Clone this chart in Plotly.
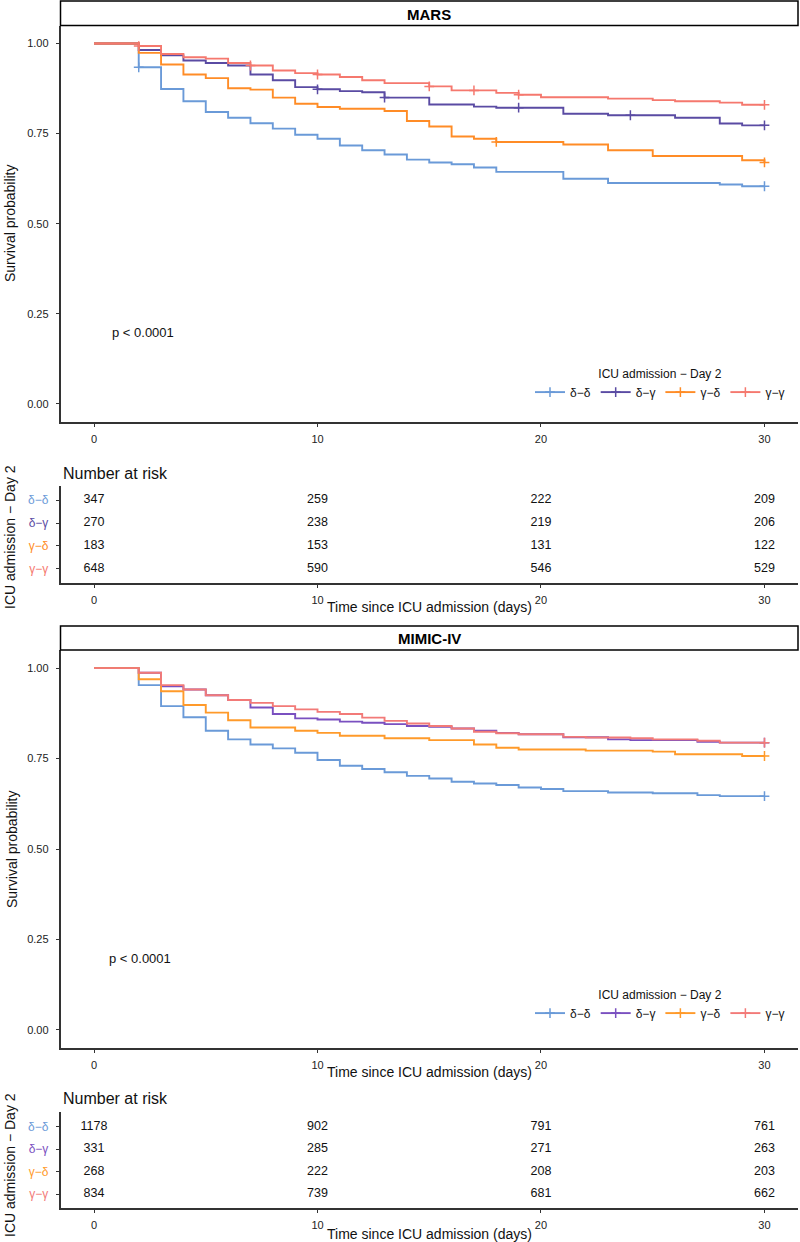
import plotly.graph_objects as go

W, H = 800, 1242
FONT = "Liberation Sans, Arial, Helvetica, sans-serif"

# ---------------- data ----------------
groups = ["δ−δ", "δ−γ", "γ−δ", "γ−γ"]
days = list(range(0, 31))

# MARS survival estimates, value after each day's step (days 0..30)
mars_dd = [1.0, 1.0, 0.934, 0.874, 0.840, 0.810, 0.794, 0.779, 0.764, 0.747, 0.736,
           0.717, 0.704, 0.692, 0.678, 0.670, 0.665, 0.656, 0.644, 0.644, 0.644,
           0.625, 0.625, 0.613, 0.613, 0.613, 0.613, 0.613, 0.609, 0.604, 0.604]
mars_dg = [1.0, 1.0, 0.982, 0.967, 0.953, 0.946, 0.939, 0.914, 0.898, 0.879, 0.873,
           0.868, 0.865, 0.850, 0.850, 0.831, 0.831, 0.825, 0.822, 0.822, 0.822,
           0.805, 0.805, 0.801, 0.801, 0.801, 0.794, 0.794, 0.778, 0.773, 0.773]
mars_gd = [1.0, 1.0, 0.974, 0.942, 0.914, 0.904, 0.876, 0.872, 0.850, 0.833, 0.824,
           0.819, 0.819, 0.813, 0.785, 0.770, 0.742, 0.736, 0.727, 0.727, 0.727,
           0.720, 0.720, 0.704, 0.704, 0.688, 0.688, 0.688, 0.688, 0.676, 0.670]
mars_gg = [1.0, 1.0, 0.993, 0.971, 0.962, 0.958, 0.946, 0.939, 0.925, 0.918, 0.914,
           0.907, 0.898, 0.890, 0.890, 0.881, 0.870, 0.870, 0.863, 0.858, 0.851,
           0.851, 0.851, 0.847, 0.847, 0.843, 0.840, 0.840, 0.836, 0.830, 0.830]

# MIMIC-IV survival estimates (days 0..30)
mimic_dd = [1.0, 1.0, 0.953, 0.895, 0.864, 0.827, 0.803, 0.789, 0.778, 0.766, 0.746,
            0.730, 0.721, 0.712, 0.702, 0.695, 0.686, 0.681, 0.677, 0.670, 0.666,
            0.660, 0.660, 0.656, 0.656, 0.654, 0.654, 0.649, 0.646, 0.646, 0.646]
mimic_dg = [1.0, 1.0, 0.987, 0.950, 0.941, 0.925, 0.912, 0.891, 0.873, 0.861, 0.858,
            0.852, 0.849, 0.845, 0.840, 0.838, 0.833, 0.827, 0.821, 0.817, 0.817,
            0.809, 0.809, 0.803, 0.801, 0.801, 0.801, 0.796, 0.794, 0.794, 0.794]
mimic_gd = [1.0, 1.0, 0.969, 0.936, 0.898, 0.877, 0.856, 0.836, 0.836, 0.827, 0.821,
            0.813, 0.813, 0.806, 0.806, 0.801, 0.801, 0.789, 0.780, 0.775, 0.775,
            0.775, 0.772, 0.772, 0.772, 0.769, 0.762, 0.762, 0.762, 0.757, 0.757]
mimic_gg = [1.0, 1.0, 0.987, 0.953, 0.941, 0.925, 0.912, 0.904, 0.895, 0.886, 0.879,
            0.873, 0.863, 0.854, 0.847, 0.840, 0.833, 0.824, 0.820, 0.817, 0.817,
            0.810, 0.808, 0.808, 0.806, 0.803, 0.803, 0.799, 0.794, 0.794, 0.794]

# censoring marks (days)
mars_cens_dd = [2, 30]
mars_cens_dg = [10, 13, 19, 24, 30]
mars_cens_gd = [18, 30]
mars_cens_gg = [2, 7, 10, 15, 17, 19, 30]
mimic_cens_dd = [30]
mimic_cens_dg = [30]
mimic_cens_gd = [30]
mimic_cens_gg = [30]

# number at risk
risk_times = [0, 10, 20, 30]
mars_risk_dd = [347, 259, 222, 209]
mars_risk_dg = [270, 238, 219, 206]
mars_risk_gd = [183, 153, 131, 122]
mars_risk_gg = [648, 590, 546, 529]
mimic_risk_dd = [1178, 902, 791, 761]
mimic_risk_dg = [331, 285, 271, 263]
mimic_risk_gd = [268, 222, 208, 203]
mimic_risk_gg = [834, 739, 681, 662]

x_ticks = [0, 10, 20, 30]
y_ticks = [0, 0.25, 0.5, 0.75, 1.0]
y_ticktext = ["0.00", "0.25", "0.50", "0.75", "1.00"]

mars_colors = ["#6A9AD8", "#5A4BA3", "#FF8C26", "#F5786E"]
mimic_colors = ["#6A9AD8", "#7A50C0", "#FF9A2A", "#F27A78"]

panels = [
    dict(name="MARS", surv=[mars_dd, mars_dg, mars_gd, mars_gg],
         cens=[mars_cens_dd, mars_cens_dg, mars_cens_gd, mars_cens_gg],
         risk=[mars_risk_dd, mars_risk_dg, mars_risk_gd, mars_risk_gg],
         colors=mars_colors, km="1", rt="2", legend="legend"),
    dict(name="MIMIC-IV", surv=[mimic_dd, mimic_dg, mimic_gd, mimic_gg],
         cens=[mimic_cens_dd, mimic_cens_dg, mimic_cens_gd, mimic_cens_gg],
         risk=[mimic_risk_dd, mimic_risk_dg, mimic_risk_gd, mimic_risk_gg],
         colors=mimic_colors, km="3", rt="4", legend="legend2"),
]


def pxx(p):
    return p / W


def pyy(p):
    return 1 - p / H


def ax(n, kind):
    return kind if n == "1" else kind + n


fig = go.Figure()

for P in panels:
    xk, yk = ax(P["km"], "x"), ax(P["km"], "y")
    xr, yr = ax(P["rt"], "x"), ax(P["rt"], "y")
    for g, s, c, col in zip(groups, P["surv"], P["cens"], P["colors"]):
        fig.add_trace(go.Scatter(
            x=days, y=s, mode="lines", name=g, showlegend=False,
            line=dict(shape="hv", color=col, width=1.9),
            xaxis=xk, yaxis=yk, hoverinfo="skip"))
        fig.add_trace(go.Scatter(
            x=c, y=[s[days.index(t)] for t in c], mode="markers", showlegend=False,
            marker=dict(symbol="cross-thin", size=7, line=dict(width=1.5, color=col)),
            xaxis=xk, yaxis=yk, hoverinfo="skip"))
        fig.add_trace(go.Scatter(
            x=[None], y=[None], mode="lines+markers", name=g, legend=P["legend"],
            line=dict(color=col, width=1.9),
            marker=dict(symbol="cross-thin", size=7, line=dict(width=1.5, color=col)),
            xaxis=xk, yaxis=yk))
    for g, r in zip(groups, P["risk"]):
        fig.add_trace(go.Scatter(
            x=risk_times, y=[g] * len(risk_times), mode="text",
            text=[str(v) for v in r], textposition="middle center",
            textfont=dict(size=12.5, color="#111", family=FONT),
            showlegend=False, xaxis=xr, yaxis=yr, hoverinfo="skip"))

common_x = dict(range=[-1.5, 31.5], tickvals=x_ticks, ticks="outside", ticklen=3,
                tickwidth=1, tickcolor="#333", showline=True, linecolor="#333",
                linewidth=1.5, showgrid=False, zeroline=False, ticklabelstandoff=3,
                tickfont=dict(size=11, color="#222", family=FONT))
common_yk = dict(range=[-0.05, 1.05], tickvals=y_ticks, ticktext=y_ticktext,
                 ticks="outside", ticklen=3, tickwidth=1, tickcolor="#333",
                 showline=True, linecolor="#333", linewidth=1.5, showgrid=False,
                 zeroline=False, ticklabelstandoff=5,
                 tickfont=dict(size=11, color="#222", family=FONT))


def risk_y(colors, rng, dom):
    return dict(type="category", categoryorder="array", categoryarray=groups[::-1],
                range=rng, domain=dom, tickvals=groups,
                ticktext=[f'<span style="color:{c}">{g}</span>' for g, c in zip(groups, colors)],
                ticks="outside", ticklen=3, tickwidth=1, tickcolor="#333",
                showline=True, linecolor="#333", linewidth=1.5, showgrid=False,
                zeroline=False, ticklabelstandoff=5, tickfont=dict(size=12, family=FONT))


xdom = [pxx(60.5), pxx(798)]
leg_common = dict(orientation="h", xanchor="right", yanchor="top",
                  font=dict(size=12, family=FONT, color="#111"),
                  bgcolor="rgba(0,0,0,0)", itemwidth=30)
fig.update_layout(
    width=W, height=H, margin=dict(l=0, r=0, t=0, b=0),
    paper_bgcolor="white", plot_bgcolor="white",
    font=dict(family=FONT, color="#111"),
    xaxis=dict(common_x, domain=xdom, anchor="y"),
    yaxis=dict(common_yk, domain=[pyy(422), pyy(25.5)], anchor="x"),
    xaxis2=dict(common_x, domain=xdom, anchor="y2"),
    yaxis2=dict(risk_y(mars_colors, [-0.61, 3.61], [pyy(583), pyy(486)]), anchor="x2"),
    xaxis3=dict(common_x, domain=xdom, anchor="y3"),
    yaxis3=dict(common_yk, domain=[pyy(1048), pyy(650)], anchor="x3"),
    xaxis4=dict(common_x, domain=xdom, anchor="y4"),
    yaxis4=dict(risk_y(mimic_colors, [-0.61, 3.65], [pyy(1208), pyy(1112)]), anchor="x4"),
    legend=dict(leg_common, x=pxx(790), y=pyy(362),
                title=dict(text="ICU admission − Day 2", side="top center",
                           font=dict(size=12, family=FONT))),
    legend2=dict(leg_common, x=pxx(790), y=pyy(983),
                 title=dict(text="ICU admission − Day 2", side="top center",
                            font=dict(size=12, family=FONT))),
)

# strip boxes
for y0, y1 in [(1, 25.5), (626, 650)]:
    fig.add_shape(type="rect", xref="paper", yref="paper",
                  x0=pxx(60.5), x1=pxx(798), y0=pyy(y1), y1=pyy(y0),
                  line=dict(color="black", width=1.5), fillcolor="white", layer="above")

ann = []


def A(text, x, y, size, xanchor="center", textangle=0, color="#111"):
    ann.append(dict(text=text, x=pxx(x), y=pyy(y), xref="paper", yref="paper",
                    showarrow=False, xanchor=xanchor, yanchor="middle",
                    textangle=textangle,
                    font=dict(size=size, family=FONT, color=color)))


A("<b>MARS</b>", 429, 14, 15, color="black")
A("<b>MIMIC-IV</b>", 429, 639, 15, color="black")
A("p < 0.0001", 110, 332, 13, xanchor="left")
A("p < 0.0001", 107, 958, 13, xanchor="left")
A("Survival probability", 10, 223, 14, textangle=-90)
A("Survival probability", 12, 849, 14, textangle=-90)
A("ICU admission − Day 2", 10, 537, 14, textangle=-90)
A("ICU admission − Day 2", 10, 1165, 14, textangle=-90)
A("Number at risk", 61, 473, 16, xanchor="left")
A("Number at risk", 61, 1098, 16, xanchor="left")
A("Time since ICU admission (days)", 429, 607.5, 14)
A("Time since ICU admission (days)", 429, 1072, 14)
A("Time since ICU admission (days)", 429, 1234, 14)
fig.update_layout(annotations=ann)

fig.write_html("out.html", config={"displayModeBar": False},
               post_script="document.body.style.margin='0px';document.body.style.overflow='hidden';")
